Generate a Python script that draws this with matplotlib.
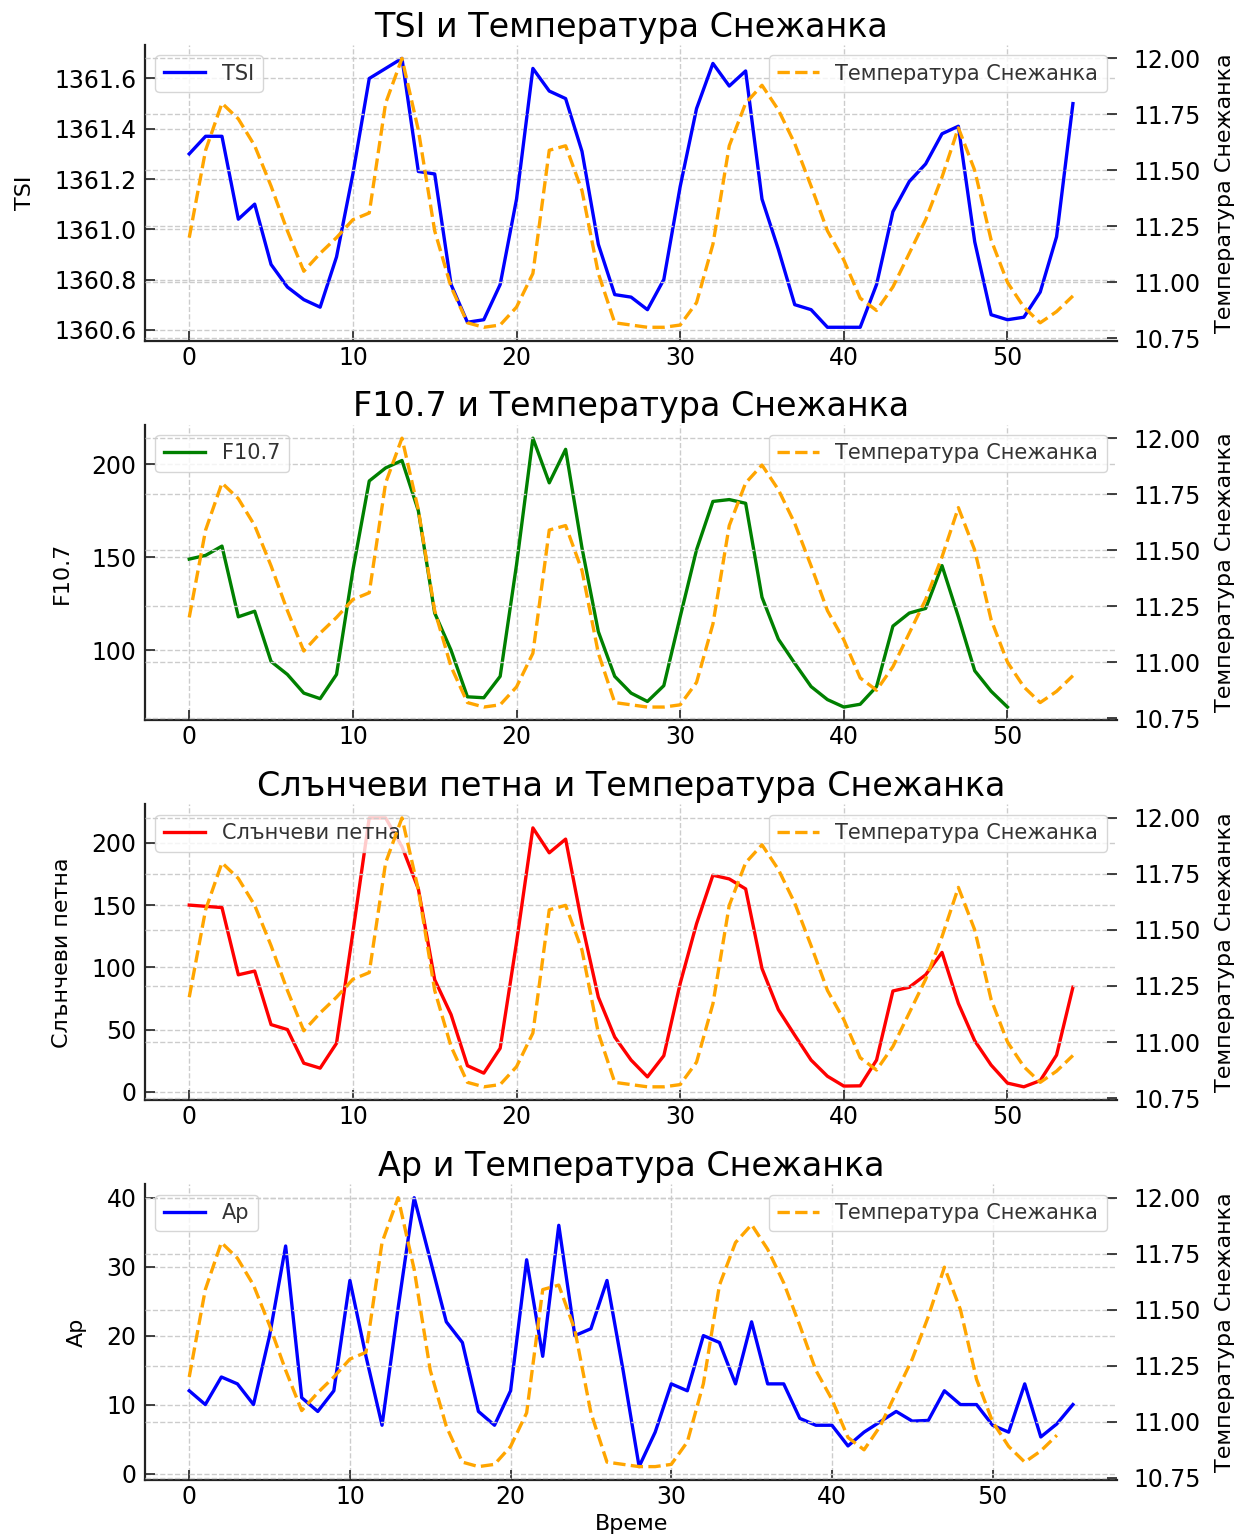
import matplotlib
matplotlib.use("Agg")
import matplotlib.pyplot as plt
from matplotlib.ticker import MultipleLocator
import numpy as np


# ------------------------------------------------------------
# Data
# ------------------------------------------------------------

TEMP = [11.20, 11.59, 11.80, 11.73, 11.61, 11.43, 11.23, 11.05, 11.13, 11.20,
        11.28, 11.31, 11.80, 12.00, 11.68, 11.23, 10.98, 10.82, 10.80, 10.81,
        10.89, 11.04, 11.59, 11.61, 11.41, 11.04, 10.82, 10.81, 10.80, 10.80,
        10.81, 10.91, 11.17, 11.61, 11.80, 11.88, 11.77, 11.62, 11.43, 11.23,
        11.10, 10.93, 10.875, 10.98, 11.13, 11.28, 11.47, 11.69, 11.50, 11.19,
        11.00, 10.89, 10.82, 10.87, 10.94]

TSI = [1361.30, 1361.37, 1361.37, 1361.04, 1361.10, 1360.86, 1360.77, 1360.72,
       1360.69, 1360.89, 1361.22, 1361.60, 1361.64, 1361.68, 1361.23, 1361.22,
       1360.78, 1360.63, 1360.64, 1360.78, 1361.12, 1361.64, 1361.55, 1361.52,
       1361.31, 1360.94, 1360.74, 1360.73, 1360.68, 1360.80, 1361.17, 1361.48,
       1361.66, 1361.57, 1361.63, 1361.12, 1360.92, 1360.70, 1360.68, 1360.61,
       1360.61, 1360.61, 1360.78, 1361.07, 1361.19, 1361.26, 1361.38, 1361.41,
       1360.95, 1360.66, 1360.64, 1360.65, 1360.75, 1360.97, 1361.50]

F107 = [149, 151, 156, 118, 121, 94, 87, 77, 74, 87,
        143, 191, 198, 202, 175, 120, 100, 75, 74.5, 86,
        146, 214, 190, 208, 155, 110, 86, 77, 72.5, 81,
        118, 154, 180, 181, 179, 128.5, 106, 93, 80.5, 73.5,
        69.5, 71, 80.5, 113, 120, 122.5, 145.5, 118, 89, 78,
        69.5]

SUNSPOTS = [150, 149, 148, 94, 97, 54, 50, 23, 19, 39,
            128, 220, 220, 197, 163, 90, 62, 21, 15, 35,
            120, 212, 192, 203, 135, 76, 44, 25.5, 12, 29,
            87, 135, 174, 171, 163, 99, 66, 45.5, 25.5, 12.5,
            4.6, 4.8, 25.5, 81, 84, 94, 112, 71, 41, 21.5,
            7, 4, 9, 29.5, 84]

AP = [12, 10, 14, 13, 10, 20, 33, 11, 9, 12,
      28, 17, 7, 24, 40, 31, 22, 19, 9, 7,
      12, 31, 17, 36, 20, 21, 28, 15, 1, 6,
      13, 12, 20, 19, 13, 22, 13, 13, 8, 7,
      7, 4, 6, 7.5, 9, 7.6, 7.7, 12, 10, 10,
      7, 6, 13, 5.3, 7.2, 10]

# name, values, colour, left tick step
PANELS = [
    ("TSI", TSI, "#0000ff", 0.2),
    ("F10.7", F107, "green", 50),
    ("Слънчеви петна", SUNSPOTS, "#ff0000", 50),
    ("Ap", AP, "#0000ff", 10),
]

TEMP_LABEL = "Температура Снежанка"
TEMP_STEP = 0.25
X_LABEL = "Време"


# ------------------------------------------------------------
# Style
# ------------------------------------------------------------

plt.rcParams["font.family"] = ["DejaVu Sans"]
plt.rcParams["font.size"] = 16
plt.rcParams["axes.titlesize"] = 24
plt.rcParams["axes.labelsize"] = 16
plt.rcParams["xtick.labelsize"] = 17
plt.rcParams["ytick.labelsize"] = 17
plt.rcParams["legend.fontsize"] = 15


def style_axis(ax, pad):
    for side in ("top", "right"):
        ax.spines[side].set_visible(False)
    for side in ("left", "bottom"):
        ax.spines[side].set_linewidth(1.6)
        ax.spines[side].set_color("#222222")
    ax.tick_params(direction="in", length=7, width=1.2, colors="#222222",
                   labelcolor="black")
    ax.tick_params(axis="y", pad=pad)
    ax.grid(True, linestyle="--", color="#cccccc", linewidth=1.0)


# ------------------------------------------------------------
# Plot
# ------------------------------------------------------------

fig, axes = plt.subplots(4, 1, figsize=(12.44, 15.39), dpi=100)
fig.subplots_adjust(left=0.1166, right=0.898, top=0.9708, bottom=0.0383,
                    hspace=0.284)

temp_x = np.arange(len(TEMP))

for ax, (name, values, color, step) in zip(axes, PANELS):
    x = np.arange(len(values))
    ax.plot(x, values, color=color, linewidth=2.4, label=name)
    ax.set_ylabel(name, labelpad=14)
    ax.set_title(f"{name} и {TEMP_LABEL}")
    ax.yaxis.set_major_locator(MultipleLocator(step))
    style_axis(ax, pad=6)
    ax.legend(loc="upper left", framealpha=0.8, edgecolor="#cccccc",
              labelcolor="#333333")

    ax2 = ax.twinx()
    ax2.plot(temp_x, TEMP, color="orange", linestyle="--", linewidth=2.4,
             label=TEMP_LABEL)
    ax2.set_ylabel(TEMP_LABEL, labelpad=10)
    ax2.yaxis.set_major_locator(MultipleLocator(TEMP_STEP))
    style_axis(ax2, pad=12)
    ax2.spines["left"].set_visible(False)
    ax2.spines["bottom"].set_visible(False)
    ax2.legend(loc="upper right", framealpha=0.8, edgecolor="#cccccc",
               labelcolor="#333333")

axes[-1].set_xlabel(X_LABEL)

fig.savefig("out.png", dpi=100)
